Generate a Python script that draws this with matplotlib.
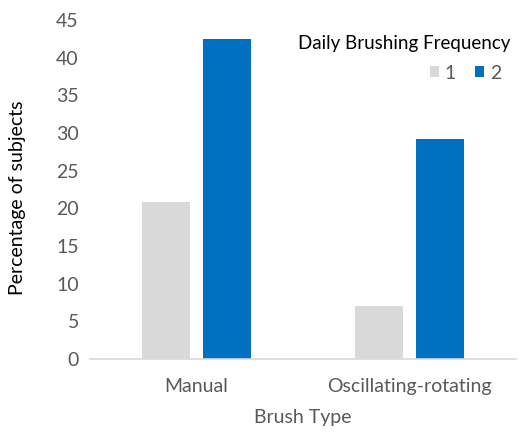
import matplotlib
matplotlib.use("Agg")
import matplotlib.pyplot as plt
import numpy as np

categories = ["Manual", "Oscillating-rotating"]
series_names = ["1", "2"]
freq1 = [20.9, 7.0]
freq2 = [42.5, 29.2]
colors = ["#D9D9D9", "#0070C0"]
legend_title = "Daily Brushing Frequency"

plt.rcParams['font.family'] = ['Lato', 'DejaVu Sans']

fig = plt.figure(figsize=(5.27, 4.36), dpi=100)
ax = fig.add_axes([90/527, 1-359/436, (516-90)/527, (359-20)/436])

x = np.arange(len(categories))
w = 0.225
ax.bar(x - 0.142, freq1, width=w, color=colors[0], label=series_names[0])
ax.bar(x + 0.142, freq2, width=w, color=colors[1], label=series_names[1])

ax.set_xlim(-0.5, 1.5)
ax.set_ylim(0, 45)
ax.set_yticks(np.arange(0, 46, 5))
ax.set_xticks(x)
ax.set_xticklabels(categories)
for s in ["top", "right", "left"]:
    ax.spines[s].set_visible(False)
ax.spines["bottom"].set_color("#D9D9D9")
ax.spines["bottom"].set_linewidth(1.2)
ax.tick_params(axis="both", length=0, labelsize=14, labelcolor="#595959")
ax.tick_params(axis="x", pad=14)
ax.tick_params(axis="y", pad=8)
ax.set_xlabel("Brush Type", fontsize=14, color="#595959", labelpad=10)
ax.set_ylabel("Percentage of subjects", fontsize=14, color="black")
ax.yaxis.set_label_coords((26-90)/426, (359-198)/339)

fig.text(510/527, 1-43/436, legend_title, ha="right", va="center",
         fontsize=13.5, color="black")
leg = fig.legend(ncol=2, loc="center right",
                 bbox_to_anchor=(501/527, 1-73/436), frameon=False, fontsize=14,
                 borderpad=0, handlelength=0.45, handleheight=0.55,
                 handletextpad=0.3, columnspacing=1.0, borderaxespad=0)
for t in leg.get_texts():
    t.set_color("#595959")

fig.savefig("out.png", dpi=100)
